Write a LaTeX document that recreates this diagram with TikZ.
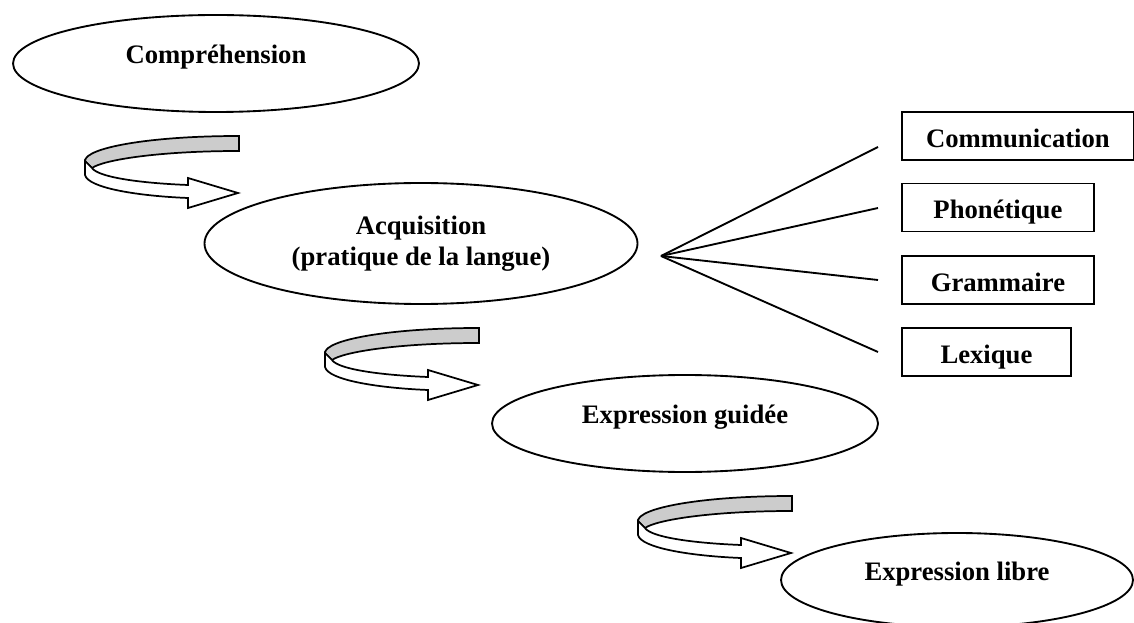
\documentclass[tikz,border=0pt]{standalone}
\usepackage{fontspec}
\setmainfont{Liberation Serif}
\usepackage{tikz}
\usetikzlibrary{shapes.geometric}

\tikzset{
	stage/.style={draw, ellipse, line width=1.4pt, font=\bfseries\fontsize{20}{23.25}\selectfont},
	oneline/.style={text height=12pt, text depth=12pt},
	topic/.style={draw, rectangle, anchor=west, line width=1.4pt, minimum height=36pt,
		text height=17.25pt, text depth=0pt, font=\bfseries\fontsize{20}{24}\selectfont}
}

\newcommand{\drawturn}[2]{ % tip x, tip y
	\begin{scope}[shift={(#1,#2)}, line width=1.3pt]
	\filldraw[fill=gray!40] (1,-57) .. controls (-90,-57) and (-153,-45) .. (-153,-32) -- (-146,-25)
		.. controls (-135,-33) and (-80,-42) .. (1,-42) -- cycle;
	\filldraw[fill=white] (-153,-32) -- (-153,-18) .. controls (-150,-5) and (-100,3) .. (-50,5)
		-- (-50,15) -- (0,0) -- (-50,-15) -- (-50,-8) .. controls (-100,-10) and (-140,-16) .. (-146,-25) -- cycle;
	\end{scope}
}

\begin{document}
\begin{tikzpicture}[x=0.75pt, y=-0.75pt]

\useasboundingbox (0,0) rectangle (1134,623);
\clip (0,0) rectangle (1134,623);

\node[stage, oneline, minimum width=304.5pt, minimum height=72.75pt] (compr) at (216,63.5) {Compréhension};
\node[stage, align=center, minimum width=324.75pt, minimum height=90.75pt] (acq) at (421,243.5) {Acquisition\\(pratique de la langue)};
\node[stage, oneline, minimum width=289.5pt, minimum height=72.75pt] (guid) at (685,423.5) {Expression guidée};
\node[stage, oneline, minimum width=264pt, minimum height=70.5pt] (libre) at (957,580) {Expression libre};

\drawturn{238}{193};
\drawturn{478}{385};
\drawturn{791}{553};

\node[topic, minimum width=174pt] (comm) at (901,136) {Communication};
\node[topic, minimum width=144pt] (phon) at (901,207.5) {Phonétique};
\node[topic, minimum width=144pt] (gram) at (901,280) {Grammaire};
\node[topic, minimum width=126.75pt] (lex) at (901,352) {Lexique};

\coordinate (hub) at (661,256);
\coordinate (tocomm) at (878,147);
\coordinate (tophon) at (878,208);
\coordinate (togram) at (878,280);
\coordinate (tolex) at (878,352);

\draw[line width=1.4pt] (hub) -- (tocomm);
\draw[line width=1.4pt] (hub) -- (tophon);
\draw[line width=1.4pt] (hub) -- (togram);
\draw[line width=1.4pt] (hub) -- (tolex);

\end{tikzpicture}
\end{document}
